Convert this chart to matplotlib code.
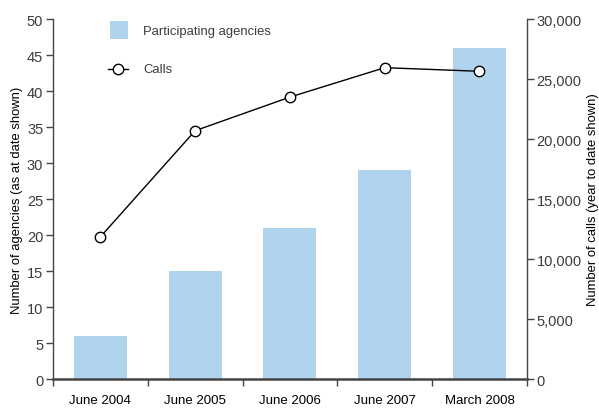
import numpy as np
import matplotlib.pyplot as plt
from matplotlib.lines import Line2D
from matplotlib.patches import Rectangle

plt.rcParams['font.family'] = ['Liberation Sans', 'DejaVu Sans']

# Data
categories = ["June 2004", "June 2005", "June 2006", "June 2007", "March 2008"]
agencies = [6, 15, 21, 29, 46]
calls = [11850, 20700, 23500, 25950, 25650]
legend_labels = ["Participating agencies", "Calls"]

BAR_COLOR = "#b0d3ee"
TEXT_COLOR = "#3c3c3c"
AXIS_COLOR = "#444444"

fig = plt.figure(figsize=(5.99, 4.10), dpi=100)
ax = fig.add_axes([0.0885, 0.073, 0.791, 0.878])
ax2 = ax.twinx()

x = np.arange(len(categories))
ax.bar(x, agencies, width=0.56, color=BAR_COLOR, zorder=1)
ax2.plot(x, calls, color="black", lw=1.0, marker="o", ms=7.5,
         markerfacecolor="white", markeredgecolor="black", markeredgewidth=1.0, zorder=3)

ax.set_xlim(-0.5, len(categories) - 0.5)
ax.set_ylim(0, 50)
ax2.set_ylim(0, 30000)
ax.set_yticks(range(0, 51, 5))
ax2.set_yticks(range(0, 30001, 5000))
ax2.set_yticklabels([f"{v:,}" for v in range(0, 30001, 5000)])

# category ticks sit between bars, labels centred under bars
ax.set_xticks(np.arange(-0.5, len(categories), 1.0))
ax.set_xticklabels([])
ax.set_xticks(x, minor=True)
ax.set_xticklabels(categories, minor=True)
ax.tick_params(axis="x", which="minor", length=0, pad=11, labelsize=9.5, labelcolor="black")
ax.tick_params(axis="x", which="major", length=5, width=1, color=AXIS_COLOR, direction="out")

for a in (ax, ax2):
    a.spines["top"].set_visible(False)
    for s in a.spines.values():
        s.set_color(AXIS_COLOR)
        s.set_linewidth(1.0)
ax.spines["right"].set_visible(False)
ax2.spines["left"].set_visible(False)
ax2.spines["bottom"].set_visible(False)
ax.spines["bottom"].set_linewidth(1.8)

ax.tick_params(axis="y", length=5, width=1, color=AXIS_COLOR, labelsize=10.5, labelcolor=TEXT_COLOR, pad=2)
ax2.tick_params(axis="y", length=5, width=1, color=AXIS_COLOR, labelsize=10.5, labelcolor=TEXT_COLOR, pad=2)

ax.set_ylabel("Number of agencies (as at date shown)", fontsize=9.4, color="black", labelpad=3)
ax2.set_ylabel("Number of calls (year to date shown)", fontsize=9.4, color="black", labelpad=4)

# hand-placed legend (axes fraction coords)
ax2.add_patch(Rectangle((0.120, 0.944), 0.038, 0.05, transform=ax2.transAxes,
                        facecolor=BAR_COLOR, edgecolor="none", clip_on=False))
ax2.text(0.190, 0.966, legend_labels[0], transform=ax2.transAxes, fontsize=9.4,
         color=TEXT_COLOR, va="center", ha="left")
ax2.add_line(Line2D([0.116, 0.158], [0.861, 0.861], transform=ax2.transAxes,
                    color="black", lw=1.0))
ax2.add_line(Line2D([0.137], [0.861], transform=ax2.transAxes, marker="o", ms=7.5,
                    markerfacecolor="white", markeredgecolor="black", markeredgewidth=1.0))
ax2.text(0.190, 0.861, legend_labels[1], transform=ax2.transAxes, fontsize=9.4,
         color=TEXT_COLOR, va="center", ha="left")

plt.savefig("out.png", dpi=100)
